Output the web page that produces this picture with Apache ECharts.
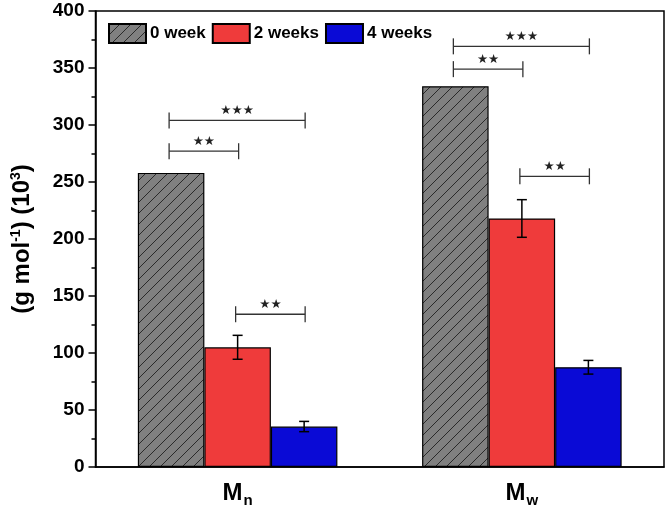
<!DOCTYPE html>
<html>
<head>
<meta charset="utf-8">
<script src="https://cdn.jsdelivr.net/npm/echarts@6/dist/echarts.min.js"></script>
<style>
  html, body { margin: 0; padding: 0; background: #fff; }
  #chart { width: 666px; height: 511px; }
</style>
</head>
<body>
<div id="chart"></div>
<script>
// values, in 10^3 g/mol
const categories = ['Mn', 'Mw']
const seriesNames = ['0 week', '2 weeks', '4 weeks']
const week0 = [258, 334]
const week2 = [105, 218]
const week4 = [35.5, 87.5]
const week2Err = [10.5, 16.5]
const week4Err = [4.5, 6]
// [category, from bar, to bar, height, label]
const brackets = [
  [0, 0, 2, 304, '★★★'],
  [0, 0, 1, 277, '★★'],
  [0, 1, 2, 134, '★★'],
  [1, 0, 2, 369, '★★★'],
  [1, 0, 1, 349, '★★'],
  [1, 1, 2, 255, '★★']
]

const FONT = 'Liberation Sans'
const BAR_FRAC = 0.234

// hatch pattern for the 0 week bars
function hatch () {
  const s = 11
  const cv = document.createElement('canvas')
  cv.width = s
  cv.height = s
  const ctx = cv.getContext('2d')
  ctx.fillStyle = '#808080'
  ctx.fillRect(0, 0, s, s)
  ctx.strokeStyle = '#2a2a2a'
  ctx.lineWidth = 1
  ctx.beginPath()
  ctx.moveTo(-1, s + 1); ctx.lineTo(s + 1, -1)
  ctx.moveTo(-1, 1); ctx.lineTo(1, -1)
  ctx.moveTo(s - 1, s + 1); ctx.lineTo(s + 1, s - 1)
  ctx.stroke()
  return cv
}

const errData = []
week2.forEach((v, i) => errData.push([i, v, week2Err[i], 1]))
week4.forEach((v, i) => errData.push([i, v, week4Err[i], 2]))

const myChart = echarts.init(document.getElementById('chart'))

const option = {
  animation: false,
  backgroundColor: '#fff',
  textStyle: { fontFamily: FONT },
  legend: {
    data: seriesNames,
    left: 103,
    top: 18,
    itemWidth: 37,
    itemHeight: 19,
    itemGap: 6,
    icon: 'rect',
    textStyle: { fontFamily: FONT, fontWeight: 'bold', fontSize: 17, color: '#000', padding: [0, 0, 0, -1] }
  },
  grid: {
    left: 95.5,
    right: 2,
    top: 11,
    bottom: 44,
    show: true,
    borderColor: '#000',
    borderWidth: 1.5
  },
  xAxis: {
    type: 'category',
    data: categories,
    axisLine: { lineStyle: { color: '#000', width: 1.5 } },
    axisTick: { alignWithLabel: true, length: 6, lineStyle: { color: '#000', width: 1.5 } },
    axisLabel: {
      margin: 12,
      formatter: v => '{m|M}{s|' + v.slice(1) + '}',
      rich: {
        m: { fontFamily: FONT, fontWeight: 'bold', fontSize: 24, color: '#000' },
        s: { fontFamily: FONT, fontWeight: 'bold', fontSize: 15, color: '#000', padding: [14, 0, 0, 1] }
      }
    }
  },
  yAxis: {
    type: 'value',
    min: 0,
    max: 400,
    interval: 50,
    name: '(g mol{sup|-1}) (10{sup|3})',
    nameLocation: 'middle',
    nameGap: 60,
    nameTextStyle: {
      fontFamily: FONT,
      fontWeight: 'bold',
      fontSize: 24,
      color: '#000',
      rich: {
        sup: { fontFamily: FONT, fontWeight: 'bold', fontSize: 14, color: '#000', padding: [0, 0, 12, 0] }
      }
    },
    splitLine: { show: false },
    axisLine: { show: true, lineStyle: { color: '#000', width: 1.5 } },
    axisTick: { show: true, length: 7, lineStyle: { color: '#000', width: 1.5 } },
    minorTick: { show: true, splitNumber: 2, length: 4, lineStyle: { color: '#000', width: 1.5 } },
    axisLabel: { fontFamily: FONT, fontWeight: 'bold', fontSize: 19, color: '#000', margin: 11 }
  },
  series: [
    {
      name: seriesNames[0],
      type: 'bar',
      data: week0,
      barWidth: (BAR_FRAC * 100) + '%',
      barGap: '0%',
      itemStyle: { color: { image: hatch(), repeat: 'repeat' }, borderColor: '#000', borderWidth: 1.2 }
    },
    {
      name: seriesNames[1],
      type: 'bar',
      data: week2,
      barWidth: (BAR_FRAC * 100) + '%',
      barGap: '0%',
      itemStyle: { color: '#ef3b3b', borderColor: '#000', borderWidth: 1.2 }
    },
    {
      name: seriesNames[2],
      type: 'bar',
      data: week4,
      barWidth: (BAR_FRAC * 100) + '%',
      barGap: '0%',
      itemStyle: { color: '#0a0ad6', borderColor: '#000', borderWidth: 1.2 }
    },
    {
      type: 'custom',
      name: 'err',
      z: 5,
      data: errData,
      encode: { x: 0, y: 1 },
      renderItem (params, api) {
        const band = api.size([1, 0])[0]
        const bw = band * BAR_FRAC
        const cat = api.value(0)
        const v = api.value(1)
        const e = api.value(2)
        const idx = api.value(3)
        const top = api.coord([cat, v + e])
        const bot = api.coord([cat, v - e])
        const x = top[0] + (idx - 1) * bw
        const cap = 5
        const st = { stroke: '#000', lineWidth: 1.5 }
        return {
          type: 'group',
          children: [
            { type: 'line', shape: { x1: x, y1: top[1], x2: x, y2: bot[1] }, style: st },
            { type: 'line', shape: { x1: x - cap, y1: top[1], x2: x + cap, y2: top[1] }, style: st },
            { type: 'line', shape: { x1: x - cap, y1: bot[1], x2: x + cap, y2: bot[1] }, style: st }
          ]
        }
      }
    },
    {
      type: 'custom',
      name: 'sig',
      z: 5,
      data: brackets,
      encode: { x: 0, y: 3 },
      renderItem (params, api) {
        const b = brackets[params.dataIndex]
        const band = api.size([1, 0])[0]
        const bw = band * BAR_FRAC
        const p = api.coord([b[0], b[3]])
        const x1 = p[0] + (b[1] - 1) * bw - 2
        const x2 = p[0] + (b[2] - 1) * bw + 1
        const y = p[1]
        const h = 8
        const st = { stroke: '#333', lineWidth: 1.3 }
        return {
          type: 'group',
          children: [
            { type: 'line', shape: { x1: x1, y1: y, x2: x2, y2: y }, style: st },
            { type: 'line', shape: { x1: x1, y1: y - h, x2: x1, y2: y + h }, style: st },
            { type: 'line', shape: { x1: x2, y1: y - h, x2: x2, y2: y + h }, style: st },
            {
              type: 'text',
              style: {
                x: (x1 + x2) / 2,
                y: y - 3,
                text: b[4],
                align: 'center',
                verticalAlign: 'bottom',
                fill: '#222',
                font: '12.5px "DejaVu Sans"'
              }
            }
          ]
        }
      }
    }
  ]
}

myChart.setOption(option)
window.onresize = myChart.resize
</script>
</body>
</html>
